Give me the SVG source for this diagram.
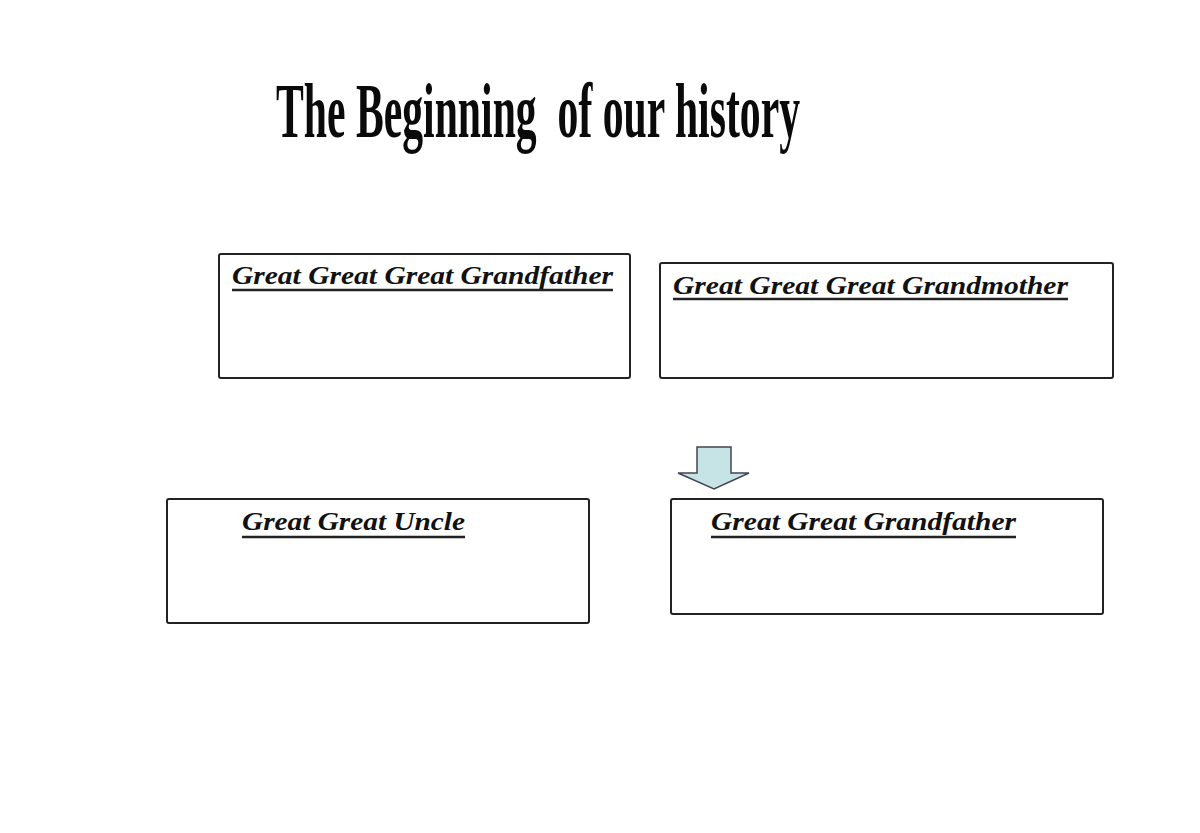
<svg xmlns="http://www.w3.org/2000/svg" width="1200" height="833" viewBox="0 0 1200 833">
<style>
.box{fill:#fff;stroke:#222;stroke-width:2}
.lbl{font-family:"Liberation Serif","DejaVu Serif",serif;font-style:italic;font-weight:bold;font-size:26px;fill:#111}
.ul{stroke:#222;stroke-width:2.5}
.title{font-family:"Liberation Serif","DejaVu Serif",serif;font-weight:bold;font-size:78px;fill:#0a0a0a;white-space:pre}
</style>
<rect width="1200" height="833" fill="#fff"/>
<text class="title" x="276" y="137" textLength="524" lengthAdjust="spacingAndGlyphs" xml:space="preserve">The Beginning  of our history</text>
<g id="node-gggf">
<rect class="box" x="219" y="254" width="411" height="124" rx="2"/>
<text class="lbl" x="232" y="284" textLength="381" lengthAdjust="spacingAndGlyphs">Great Great Great Grandfather</text>
<line class="ul" x1="232" y1="290" x2="613" y2="290"/>
</g>
<g id="node-gggm">
<rect class="box" x="660" y="263" width="453" height="115" rx="2"/>
<text class="lbl" x="673" y="294" textLength="395" lengthAdjust="spacingAndGlyphs">Great Great Great Grandmother</text>
<line class="ul" x1="673" y1="299" x2="1068" y2="299"/>
</g>
<g id="node-ggu">
<rect class="box" x="167" y="499" width="422" height="124" rx="2"/>
<text class="lbl" x="242" y="530" textLength="223" lengthAdjust="spacingAndGlyphs">Great Great Uncle</text>
<line class="ul" x1="242" y1="537" x2="465" y2="537"/>
</g>
<g id="node-ggf">
<rect class="box" x="671" y="499" width="432" height="115" rx="2"/>
<text class="lbl" x="711" y="530" textLength="305" lengthAdjust="spacingAndGlyphs">Great Great Grandfather</text>
<line class="ul" x1="711" y1="537" x2="1016" y2="537"/>
</g>
<g id="connectors">
<path d="M697,447 L731,447 L731,473 L749,473 L714,489 L678,473 L697,473 Z" fill="#c6e4e6" stroke="#445" stroke-width="1.5" stroke-linejoin="miter"/>
</g>
</svg>
